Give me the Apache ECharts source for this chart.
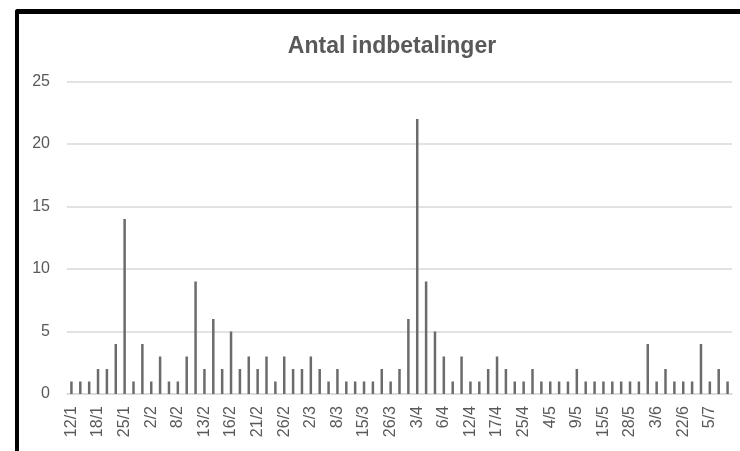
<!DOCTYPE html>
<html>
<head>
<meta charset="utf-8">
<script src="https://cdn.jsdelivr.net/npm/echarts@6/dist/echarts.min.js"></script>
<style>
  html, body { margin: 0; padding: 0; background: #fff; }
  #frame {
    position: absolute; left: 15px; top: 9px; width: 740px; height: 460px;
    border-left: 4px solid #000; border-top: 5px solid #000;
    border-top-left-radius: 3px; box-sizing: border-box;
  }
  #main { position: absolute; left: 0; top: 0; width: 740px; height: 451px; }
</style>
</head>
<body>
<div id="frame"></div>
<div id="main"></div>
<script>
// tick labels shown on the x axis (every third day); the days between are not readable
var tickLabels = ['12/1','18/1','25/1','2/2','8/2','13/2','16/2','21/2','26/2','2/3','8/3','15/3','26/3',
  '3/4','6/4','12/4','17/4','25/4','4/5','9/5','15/5','28/5','3/6','22/6','5/7']

// number of payments per day (75 days)
var values = [
  1,1,1,2,2,4,14,1,4,1,3,1,1,3,9,2,6,2,5,2,3,2,3,
  1,3,2,2,3,2,1,2,1,1,1,1,2,1,2,6,22,9,5,3,1,3,1,1,2,3,2,
  1,1,2,1,1,1,1,2,1,1,1,1,1,1,1,4,1,2,1,1,1,4,1,2,1
]

var categories = []
for (var i = 0; i < values.length; i++) {
  categories.push(i % 3 === 0 ? tickLabels[i / 3] : '')
}

var myChart = echarts.init(document.getElementById('main'))
myChart.setOption({
  animation: false,
  title: {
    text: 'Antal indbetalinger',
    left: 387,
    textAlign: 'center',
    top: 30,
    textStyle: { fontFamily: 'Liberation Sans', fontSize: 23, fontWeight: 'bold', color: '#595959' }
  },
  grid: { left: 67, right: 8, top: 81.5, bottom: 57 },
  xAxis: {
    type: 'category',
    data: categories,
    axisLine: { lineStyle: { color: '#d9d9d9', width: 1.5 } },
    axisTick: { show: false },
    axisLabel: {
      interval: 0,
      rotate: 90,
      margin: 12,
      fontFamily: 'Liberation Sans',
      fontSize: 16,
      color: '#595959'
    }
  },
  yAxis: {
    type: 'value',
    min: 0,
    max: 25,
    interval: 5,
    axisLine: { show: false },
    axisTick: { show: false },
    splitLine: { lineStyle: { color: '#d9d9d9', width: 1.5 } },
    axisLabel: { margin: 17, fontFamily: 'Liberation Sans', fontSize: 16, color: '#595959' }
  },
  series: [{
    type: 'bar',
    data: values,
    barWidth: 2.5,
    itemStyle: { color: '#6b6b6b' }
  }]
})
</script>
</body>
</html>
